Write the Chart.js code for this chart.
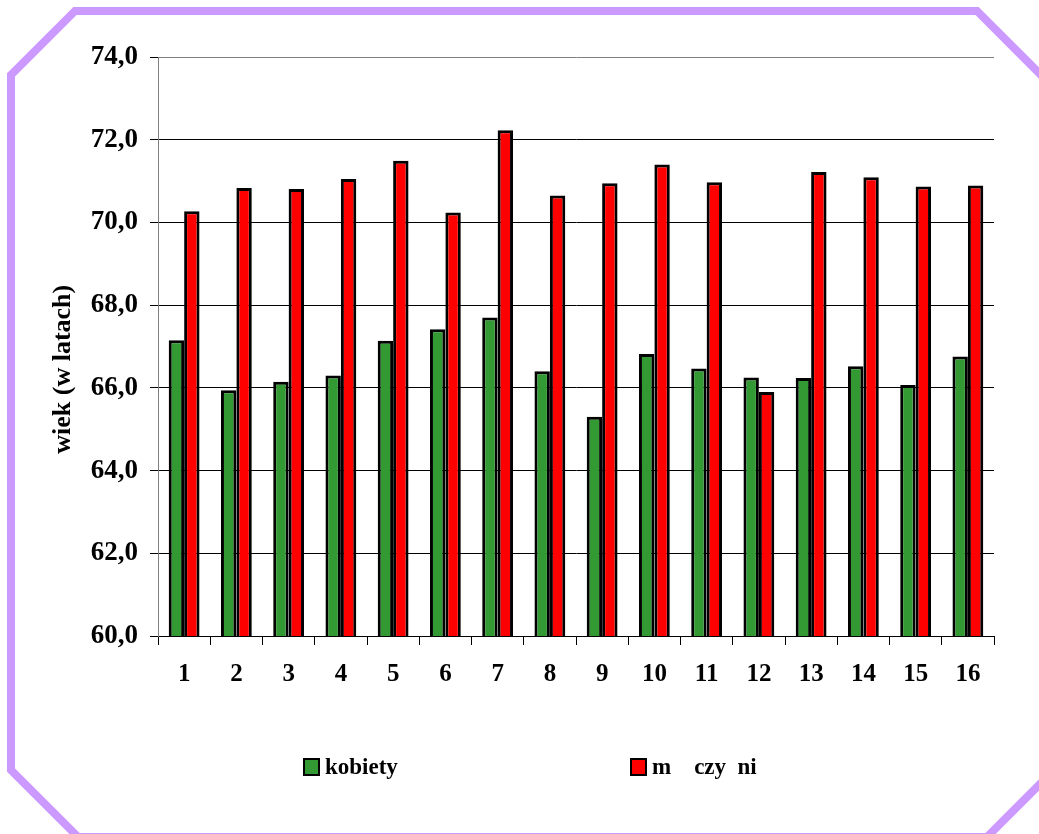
<!DOCTYPE html>
<html>
<head>
<meta charset="utf-8">
<script src="https://cdn.jsdelivr.net/npm/chart.js@4.4.1/dist/chart.umd.min.js"></script>
<style>
  html, body { margin: 0; padding: 0; background: #ffffff; }
  #wrap { position: relative; width: 1039px; height: 834px; }
</style>
</head>
<body>
<div id="wrap"><canvas id="c" width="1039" height="834"></canvas></div>
<script>
const categories = ['1','2','3','4','5','6','7','8','9','10','11','12','13','14','15','16'];
const kobiety = [67.15, 65.94, 66.15, 66.30, 67.14, 67.42, 67.70, 66.40, 65.30, 66.82, 66.47, 66.25, 66.24, 66.52, 66.07, 66.76];
const mezczyzni = [70.27, 70.83, 70.81, 71.05, 71.49, 70.24, 72.23, 70.65, 70.95, 71.40, 70.97, 65.90, 71.22, 71.09, 70.87, 70.89];
const seriesLabels = ['kobiety', 'm    czy  ni'];
const yTitle = 'wiek (w latach)';
const yMin = 60, yMax = 74, yStep = 2;

const SERIF = '"Liberation Serif", "Times New Roman", serif';

const frame = {
  id: 'frame',
  beforeDraw(chart) {
    const ctx = chart.ctx;
    ctx.save();
    ctx.strokeStyle = '#CC99FF';
    ctx.lineWidth = 8;
    ctx.lineJoin = 'miter';
    ctx.beginPath();
    const pts = [[75,11],[977,11],[1049,83],[1049,775],[987,837],[78,837],[11,770],[11,75]];
    ctx.moveTo(pts[0][0], pts[0][1]);
    for (let i = 1; i < pts.length; i++) ctx.lineTo(pts[i][0], pts[i][1]);
    ctx.closePath();
    ctx.stroke();
    ctx.restore();
  }
};

const customLegend = {
  id: 'customLegend',
  afterDraw(chart) {
    const ctx = chart.ctx;
    const xs = [303, 630];
    const y = 758;
    ctx.save();
    ctx.font = 'bold 23px ' + SERIF;
    ctx.textBaseline = 'middle';
    ctx.textAlign = 'left';
    chart.data.datasets.forEach((ds, i) => {
      const x = xs[i];
      ctx.fillStyle = '#000';
      ctx.fillRect(x, y, 17, 18);
      ctx.fillStyle = ds.backgroundColor;
      ctx.fillRect(x + 2, y + 2, 13, 14);
      ctx.fillStyle = '#000';
      ctx.fillText(ds.label, x + 22, y + 10);
    });
    ctx.restore();
  }
};

new Chart(document.getElementById('c'), {
  type: 'bar',
  data: {
    labels: categories,
    datasets: [
      { label: seriesLabels[0], data: kobiety, backgroundColor: '#339933', borderColor: '#000000', borderWidth: 3 },
      { label: seriesLabels[1], data: mezczyzni, backgroundColor: '#FF0000', borderColor: '#000000', borderWidth: 3 }
    ]
  },
  options: {
    responsive: false,
    animation: false,
    devicePixelRatio: 1,
    layout: { padding: { left: 0, top: 57, right: 45, bottom: 98 } },
    datasets: { bar: { categoryPercentage: 0.59, barPercentage: 1.0 } },
    plugins: {
      legend: { display: false },
      tooltip: { enabled: false },
      title: { display: false }
    },
    scales: {
      x: {
        afterFit(scale) { scale.height = 100; },
        grid: { display: true, drawOnChartArea: false, drawTicks: true, tickLength: 9, color: '#000', offset: true },
        border: { display: true, color: '#000', width: 1 },
        ticks: { color: '#000', font: { family: SERIF, size: 25, weight: 'bold' }, padding: 15, maxRotation: 0, autoSkip: false }
      },
      y: {
        min: yMin, max: yMax,
        afterFit(scale) { scale.width = 158; },
        grid: {
          color: (c) => (c.tick && c.tick.value === yMax) ? '#808080' : '#000000',
          tickColor: '#000',
          tickLength: 8,
          drawTicks: true
        },
        border: { display: true, color: '#808080', width: 1 },
        ticks: {
          stepSize: yStep,
          color: '#000',
          padding: 12,
          font: { family: SERIF, size: 27, weight: 'bold' },
          callback: (v) => Number(v).toFixed(1).replace('.', ',')
        },
        title: {
          display: true,
          text: yTitle + '       ',
          color: '#000',
          font: { family: SERIF, size: 26, weight: 'bold' },
          padding: { top: 48, bottom: 0 }
        }
      }
    }
  },
  plugins: [frame, customLegend]
});
</script>
</body>
</html>
